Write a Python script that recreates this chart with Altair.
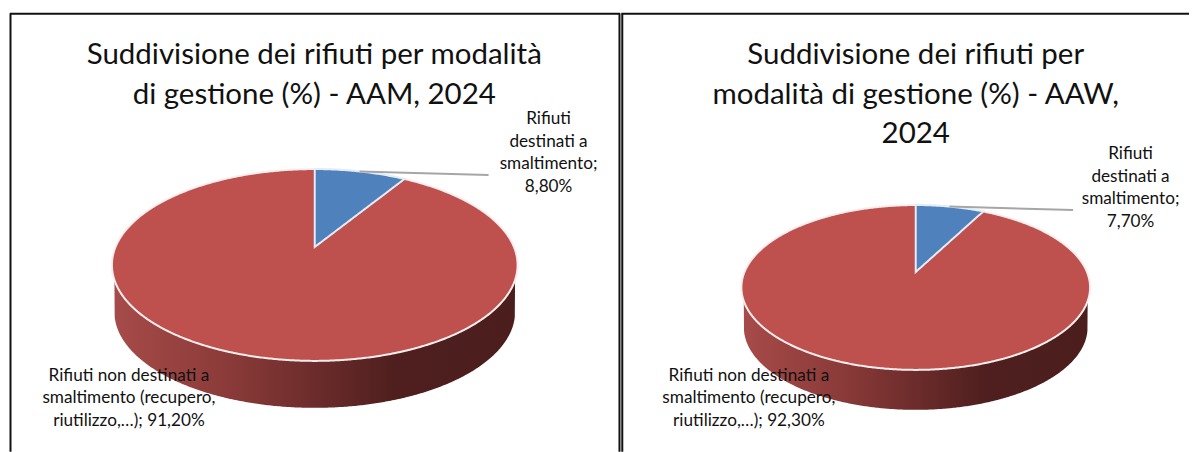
import altair as alt
import numpy as np
import pandas as pd

LABEL_TOP = "Rifiuti\ndestinati a\nsmaltimento;\n{}"
LABEL_BOTTOM = "Rifiuti non destinati a\nsmaltimento (recupero,\nriutilizzo,…); {}"

titles_aam = "Suddivisione dei rifiuti per modalità\ndi gestione (%) - AAM, 2024"
titles_aaw = "Suddivisione dei rifiuti per\nmodalità di gestione (%) - AAW,\n2024"
share_aam = 8.8
share_aaw = 7.7
value_labels_aam = ["8,80%", "91,20%"]
value_labels_aaw = ["7,70%", "92,30%"]

BLUE = "#4f81bd"
RED = "#be504e"
SIDE = alt.Gradient(
    gradient="linear", x1=0, x2=1, y1=0, y2=0,
    stops=[
        alt.GradientStop(offset=0.0, color="#a64b49"),
        alt.GradientStop(offset=0.28, color="#8b3b39"),
        alt.GradientStop(offset=0.5, color="#6c2c2b"),
        alt.GradientStop(offset=0.7, color="#4e1f1e"),
        alt.GradientStop(offset=1.0, color="#4b1e1d"),
    ],
)
PERSPECTIVE = 0.8
TITLE_SIZE = 29.5
LABEL_SIZE = 17.2
FONT = "Lato"

x_s = alt.Scale(domain=[8, 1190], zero=False, nice=False)
y_s = alt.Scale(domain=[452, 8], zero=False, nice=False)
X = alt.X("x:Q", scale=x_s, axis=None)
Y = alt.Y("y:Q", scale=y_s, axis=None)
Y2 = alt.Y2("y2:Q")


def panel(title, share, vlabels, geom, title_pos, top_pos, bottom_pos, leader_end):
    cx, cy, rx, ry, apex_y, depth = geom

    u = np.linspace(0, np.pi, 361)
    dx = -rx * np.cos(u)
    half = ry * np.sqrt(np.clip(1 - (dx / rx) ** 2, 0, 1))
    top_df = pd.DataFrame({"x": cx + dx, "y": cy - half, "y2": cy + half})

    rxb = rx - 2.5
    low = cy + half
    bottom = np.where(np.abs(dx) < rxb,
                      cy + depth + ry * np.sqrt(np.clip(1 - (dx / rxb) ** 2, 0, 1)),
                      low)
    mask = low > cy + 12
    side_df = pd.DataFrame({"x": (cx + dx)[mask], "y": low[mask], "y2": bottom[mask]})

    def rim_t(frac):
        return np.arctan(PERSPECTIVE * np.tan(frac * 2 * np.pi))

    t_end = rim_t(share / 100)
    ts = np.linspace(0, t_end, 60)
    wx = cx + rx * np.sin(ts)
    wy = cy - ry * np.cos(ts)
    end_x, end_y = wx[-1], wy[-1]
    chord = apex_y + (end_y - apex_y) * (wx - cx) / (end_x - cx)
    wedge_df = pd.DataFrame({"x": wx, "y": wy, "y2": chord})

    t_mid = rim_t(share / 200)
    lead_df = pd.DataFrame({
        "x": [cx + rx * np.sin(t_mid), leader_end[0]],
        "y": [cy - ry * np.cos(t_mid), leader_end[1]],
    })

    side = alt.Chart(side_df).mark_area(color=SIDE).encode(x=X, y=Y, y2=Y2)
    top = alt.Chart(top_df).mark_area(color=RED, stroke="#fbeeee", strokeWidth=2).encode(x=X, y=Y, y2=Y2)
    wedge = alt.Chart(wedge_df).mark_area(color=BLUE, stroke="#e4ecf6", strokeWidth=2).encode(x=X, y=Y, y2=Y2)
    leader = alt.Chart(lead_df).mark_line(color="#a6a6a6", strokeWidth=2).encode(x=X, y=Y)

    def text(rows, size, lh):
        return alt.Chart(pd.DataFrame(rows)).mark_text(
            font=FONT, fontSize=size, lineHeight=lh, lineBreak="\n",
            align="center", baseline="alphabetic", color="#111111",
        ).encode(x=X, y=Y, text="t:N")

    title_m = text([{"x": title_pos[0], "y": title_pos[1], "t": title}], TITLE_SIZE, 39.5)
    labels = text([
        {"x": top_pos[0], "y": top_pos[1], "t": LABEL_TOP.format(vlabels[0])},
        {"x": bottom_pos[0], "y": bottom_pos[1], "t": LABEL_BOTTOM.format(vlabels[1])},
    ], LABEL_SIZE, 22.6)
    return [side, top, wedge, leader, title_m, labels]


left = panel(
    titles_aam, share_aam, value_labels_aam,
    (315, 265, 203, 96, 247, 47),
    (314.5, 64), (549, 124), (129, 381), (489, 175),
)
right = panel(
    titles_aaw, share_aaw, value_labels_aaw,
    (916.5, 287.5, 174.5, 82.5, 272, 40),
    (916.5, 64), (1131.5, 159), (749.5, 381), (1074, 210),
)

frame_h = pd.DataFrame({"x": [10, 622], "x2": [620.5, 1190], "y": [13.5, 13.5]})
frame_v = pd.DataFrame({"x": [10.5, 620, 622.8], "y": [13, 13, 13], "y2": [452, 452, 452]})
rule_h = alt.Chart(frame_h).mark_rule(color="#111111", strokeWidth=2).encode(x=X, x2="x2:Q", y=Y)
rule_v = alt.Chart(frame_v).mark_rule(color="#111111", strokeWidth=2).encode(x=X, y=Y, y2=Y2)

chart = (
    alt.layer(*left, *right, rule_h, rule_v)
    .properties(width=1182, height=444, padding=0, background="white")
    .configure_view(stroke=None)
)
chart.save("out.html", embed_options={"renderer": "svg", "actions": False})
